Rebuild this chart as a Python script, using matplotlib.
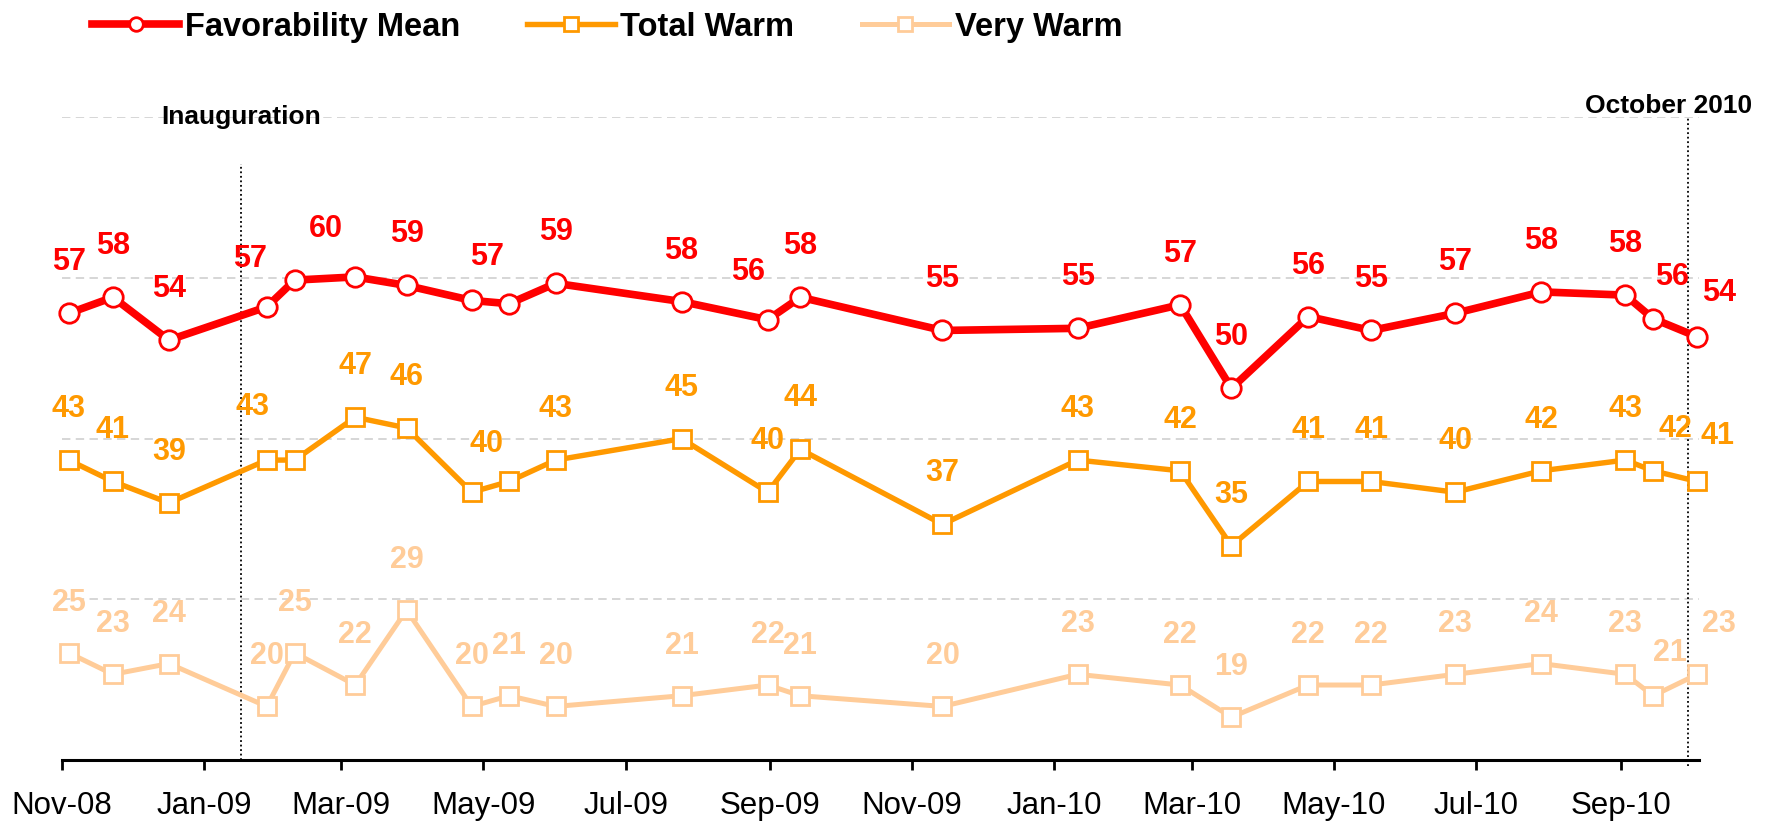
import matplotlib.pyplot as plt
import matplotlib.dates as mdates
import pandas as pd

plt.rcParams["font.family"] = ["Liberation Sans", "DejaVu Sans"]

# =====================================================
# DATA
# =====================================================

survey_dates = pd.to_datetime([
    "2008-11-04", "2008-11-23", "2008-12-17", "2009-01-28", "2009-02-09",
    "2009-03-07", "2009-03-29", "2009-04-26", "2009-05-12", "2009-06-01",
    "2009-07-25", "2009-08-31", "2009-09-14", "2009-11-14", "2010-01-11",
    "2010-02-24", "2010-03-18", "2010-04-20", "2010-05-17", "2010-06-22",
    "2010-07-29", "2010-09-03", "2010-09-15", "2010-10-04",
])

favorability = [56.7, 58.2, 54.2, 57.3, 59.8, 60.1, 59.3, 57.9, 57.6, 59.5,
                57.8, 56.1, 58.2, 55.1, 55.3, 57.5, 49.7, 56.4, 55.1, 56.7,
                58.7, 58.4, 56.2, 54.5]
fav_labels = ["57", "58", "54", "57", "", "60", "59", "", "57", "59",
              "58", "56", "58", "55", "55", "57", "50", "56", "55", "57",
              "58", "58", "56", "54"]

total_warm = [43, 41, 39, 43, 43, 47, 46, 40, 41, 43,
              45, 40, 44, 37, 43, 42, 35, 41, 41, 40,
              42, 43, 42, 41]
warm_labels = ["43", "41", "39", "43", "", "47", "46", "40", "", "43",
               "45", "40", "44", "37", "43", "42", "35", "41", "41", "40",
               "42", "43", "42", "41"]

very_warm = [25, 23, 24, 20, 25, 22, 29, 20, 21, 20,
             21, 22, 21, 20, 23, 22, 19, 22, 22, 23,
             24, 23, 21, 23]

inauguration = pd.Timestamp("2009-01-17")
latest = pd.Timestamp("2010-09-30")

RED = "#FF0000"
ORANGE = "#FF9900"
PEACH = "#FFCC99"

# label nudges in pixels (dx, up) where the label was moved off its point
fav_shift = {3: (-17, 51), 5: (-29, 51), 8: (-22, 50), 11: (-20, 51),
             22: (19, 45), 23: (22, 47)}
warm_shift = {3: (-14, 56), 7: (15, 51), 22: (22, 45), 23: (20, 48)}
very_shift = {22: (17, 46), 23: (22, 53)}

# =====================================================
# FIGURE
# =====================================================

fig = plt.figure(figsize=(17.71, 8.22), dpi=100)
ax = fig.add_axes([0.03484, 0.07543, 0.92428, 0.78187])

ax.plot(survey_dates, very_warm, color=PEACH, linewidth=3.6,
        marker="s", markersize=13.5, markerfacecolor="white",
        markeredgecolor=PEACH, markeredgewidth=2,
        label="Very Warm", zorder=3, clip_on=False)

ax.plot(survey_dates, total_warm, color=ORANGE, linewidth=3.9,
        marker="s", markersize=13.5, markerfacecolor="white",
        markeredgecolor=ORANGE, markeredgewidth=2,
        label="Total Warm", zorder=4, clip_on=False)

ax.plot(survey_dates, favorability, color=RED, linewidth=5.5,
        marker="o", markersize=14, markerfacecolor="white",
        markeredgecolor=RED, markeredgewidth=2,
        label="Favorability Mean", zorder=5, clip_on=False)

# =====================================================
# DATA LABELS
# =====================================================


def add_labels(values, labels, color, shifts, default_up):
    for i, (d, v, lab) in enumerate(zip(survey_dates, values, labels)):
        if not lab:
            continue
        dx, up = shifts.get(i, (0, default_up))
        ax.annotate(lab, (d, v), xytext=(dx, up - 11),
                    textcoords="offset pixels", ha="center", va="baseline",
                    fontsize=22, fontweight="bold", color=color,
                    zorder=6, annotation_clip=False)


add_labels(favorability, fav_labels, RED, fav_shift, 54)
add_labels(total_warm, warm_labels, ORANGE, warm_shift, 54)
add_labels(very_warm, [str(v) for v in very_warm], PEACH, very_shift, 53)

# =====================================================
# EVENT MARKERS
# =====================================================

ax.axvline(inauguration, ymin=0, ymax=0.928, color="black",
           linestyle=(0, (1, 1.5)), linewidth=1.3, zorder=2)
ax.axvline(latest, ymin=-0.01, ymax=1, color="black",
           linestyle=(0, (1, 1.5)), linewidth=1.3, zorder=2, clip_on=False)

ax.text(inauguration, 75, "Inauguration", ha="center", va="center",
        fontsize=19, fontweight="bold", color="black", zorder=6)
ax.annotate("October 2010", (latest, 75), xytext=(64, 4),
            textcoords="offset pixels", ha="right", va="baseline",
            fontsize=19, fontweight="bold", color="black",
            annotation_clip=False)

# =====================================================
# FORMATTING
# =====================================================

ax.set_xlim(pd.Timestamp("2008-11-01"), pd.Timestamp("2010-10-04 12:00"))
ax.set_ylim(15, 75)

ax.set_yticks([30, 45, 60, 75])
ax.tick_params(axis="y", length=0, labelleft=False)
ax.grid(axis="y", color="#CCCCCC", linestyle=(0, (5.5, 3.5)), linewidth=1.1)
ax.set_axisbelow(True)

ax.xaxis.set_major_locator(mdates.MonthLocator(bymonth=[1, 3, 5, 7, 9, 11]))
ax.xaxis.set_major_formatter(mdates.DateFormatter("%b-%y"))
ax.tick_params(axis="x", direction="out", length=7.5, width=2,
               labelsize=22.5, pad=15, color="black")

for side in ["left", "right", "top"]:
    ax.spines[side].set_visible(False)
ax.spines["bottom"].set_linewidth(2.2)
ax.spines["bottom"].set_color("black")

# =====================================================
# LEGEND
# =====================================================

handles, labels = ax.get_legend_handles_labels()
order = [2, 1, 0]
fig.legend(
    [handles[i] for i in order],
    [labels[i] for i in order],
    loc="center",
    bbox_to_anchor=(0.3428, 0.967),
    ncol=3,
    frameon=False,
    prop={"weight": "bold", "size": 23.5},
    handlelength=2.67,
    handletextpad=0.18,
    columnspacing=2.06,
    markerscale=0.7,
    borderpad=0,
    borderaxespad=0,
)

plt.savefig("out.png", dpi=100)
